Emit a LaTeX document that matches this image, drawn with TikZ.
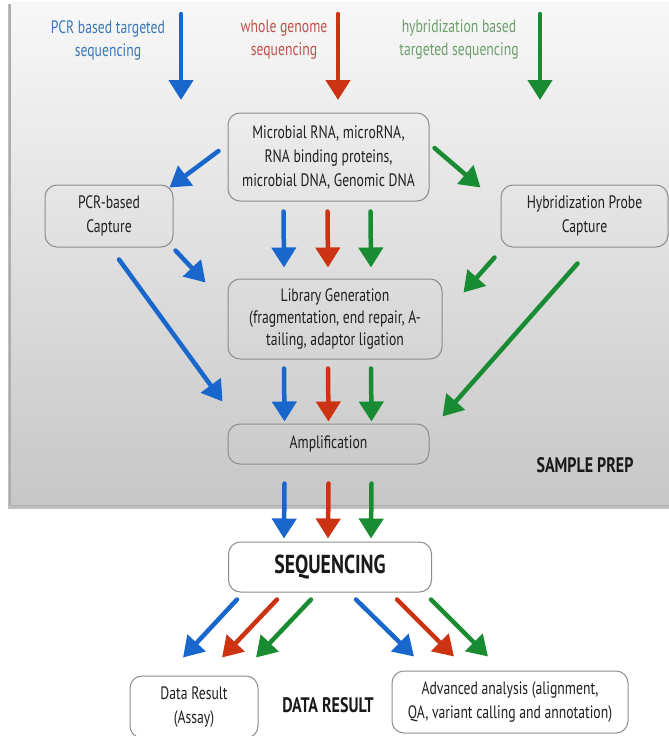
\documentclass[tikz,border=0pt]{standalone}
\usepackage{fontspec}
\setmainfont[FakeStretch=0.76]{PT Sans}
\usetikzlibrary{arrows.meta}
\definecolor{arrblue}{rgb}{0.1,0.4,0.8}
\definecolor{arrred}{rgb}{0.8,0.2,0.07}
\definecolor{arrgreen}{rgb}{0.1,0.55,0.2}
\definecolor{txtblue}{rgb}{0.23,0.47,0.72}
\definecolor{txtred}{rgb}{0.75,0.32,0.29}
\definecolor{txtgreen}{rgb}{0.43,0.62,0.43}
\definecolor{boxgray}{rgb}{0.55,0.55,0.55}
\definecolor{inkgray}{rgb}{0.12,0.12,0.12}
\tikzset{
  box/.style={draw=boxgray,line width=1pt,rounded corners=12pt,align=center,inner sep=0pt,
    text=inkgray,font=\fontsize{18}{24}\selectfont},
  whitebox/.style={box,fill=white},
  lbl/.style={align=center,font=\fontsize{18}{23}\selectfont},
  heading/.style={text=black!90,font=\fontsize{21}{23}\selectfont\bfseries},
  ablue/.style={->,line width=4.5pt,color=arrblue},
  ared/.style={->,line width=4.5pt,color=arrred},
  agreen/.style={->,line width=4.5pt,color=arrgreen}
}

\begin{document}
\begin{tikzpicture}[line cap=round,line join=round,>={Triangle[length=20pt,width=24pt]},x=1pt,y=-1pt]
\clip(0,0) rectangle (669,736);
% sample prep panel
\fill[black!25] (8,4) rectangle (680,509);
\fill[black!32] (9,4) rectangle (680,506);
\shade[top color=black!3,bottom color=black!22] (11,2) rectangle (680,504);
\node[heading] (prep) at (585,465) {SAMPLE PREP};
\node[heading] (resu) at (328,705) {DATA RESULT};
% top labels
\node[lbl,text=txtblue] (pcrlbl) at (108,40) {PCR based targeted\\sequencing};
\node[lbl,text=txtred] (wgslbl) at (284,40) {whole genome\\sequencing};
\node[lbl,text=txtgreen] (hyblbl) at (459,40) {hybridization based\\targeted sequencing};
\coordinate (pcrin) at (181,14);
\coordinate (pcrout) at (181,100);
\coordinate (wgsin) at (338,14);
\coordinate (wgsout) at (338,100);
\coordinate (hybin) at (540,14);
\coordinate (hybout) at (540,100);
% boxes
\node[box,minimum width=201pt,minimum height=88pt] (src) at (328.5,157) {Microbial RNA, microRNA,\\RNA binding proteins,\\microbial DNA, Genomic DNA};
\node[box,minimum width=128pt,minimum height=62pt] (pcr) at (109,216) {PCR-based\\Capture};
\node[box,minimum width=167pt,minimum height=62pt] (hyb) at (584.5,216) {Hybridization Probe\\Capture};
\node[box,minimum width=214pt,minimum height=80pt,font=\fontsize{18}{22}\selectfont] (lib) at (335,319) {Library Generation\\(fragmentation, end repair, A-\\tailing, adaptor ligation};
\node[box,minimum width=201pt,minimum height=40pt] (amp) at (328.5,444) {Amplification};
\node[whitebox,minimum width=203pt,minimum height=50pt,font=\fontsize{26}{26}\selectfont\bfseries,text=black!90] (seq) at (330,567) {SEQUENCING};
\node[whitebox,minimum width=128pt,minimum height=62pt] (dres) at (194,707) {Data Result\\(Assay)};
\node[whitebox,minimum width=236pt,minimum height=62pt] (adv) at (510,702) {Advanced analysis (alignment,\\QA, variant calling and annotation)};
% arrows into the sample
\draw[ablue] (pcrin) -- (pcrout);
\draw[ared] (wgsin) -- (wgsout);
\draw[agreen] (hybin) -- (hybout);
\draw[ablue] ([shift={(-9,-6)}]src.west) -- ([shift={(-4,3)}]pcr.north east);
\draw[agreen] ([shift={(5,-9)}]src.east) -- ([shift={(-20,3)}]hyb.north west);
\draw[ablue] ([shift={(-45,10)}]src.south) -- ([shift={(-51,-11)}]lib.north);
\draw[ared] ([shift={(-1,10)}]src.south) -- ([shift={(-7,-11)}]lib.north);
\draw[agreen] ([shift={(42,10)}]src.south) -- ([shift={(36,-11)}]lib.north);
\draw[ablue] ([shift={(2,3)}]pcr.south east) -- ([shift={(-22,4)}]lib.north west);
\draw[ablue] ([shift={(10,12)}]pcr.south) -- ([shift={(-5,-22)}]amp.north west);
\draw[agreen] ([shift={(-6,10)}]hyb.south west) -- ([shift={(21,14)}]lib.north east);
\draw[agreen] ([shift={(-7,16)}]hyb.south) -- ([shift={(13,-7)}]amp.north east);
\draw[ablue] ([shift={(-51,9)}]lib.south) -- ([shift={(-44,-2)}]amp.north);
\draw[ared] ([shift={(-7,9)}]lib.south) -- ([shift={(0,-2)}]amp.north);
\draw[agreen] ([shift={(36,9)}]lib.south) -- ([shift={(43,-2)}]amp.north);
% to sequencing and results
\draw[ablue] ([shift={(-44,19)}]amp.south) -- ([shift={(-46,-3)}]seq.north);
\draw[ared] ([shift={(0,19)}]amp.south) -- ([shift={(-2,-3)}]seq.north);
\draw[agreen] ([shift={(43,19)}]amp.south) -- ([shift={(41,-3)}]seq.north);
\draw[ablue] ([shift={(-93,7)}]seq.south) -- ([shift={(-11,-18)}]dres.north);
\draw[ared] ([shift={(-53,7)}]seq.south) -- ([shift={(28,-18)}]dres.north);
\draw[agreen] ([shift={(-19,7)}]seq.south) -- ([shift={(62,-18)}]dres.north);
\draw[ablue] ([shift={(26,7)}]seq.south) -- ([shift={(-96,-14)}]adv.north);
\draw[ared] ([shift={(67,7)}]seq.south) -- ([shift={(-56,-14)}]adv.north);
\draw[agreen] ([shift={(101,7)}]seq.south) -- ([shift={(-22,-14)}]adv.north);
%\draw[ablue] (seq.south) -- (adv.north);
\end{tikzpicture}
\end{document}
